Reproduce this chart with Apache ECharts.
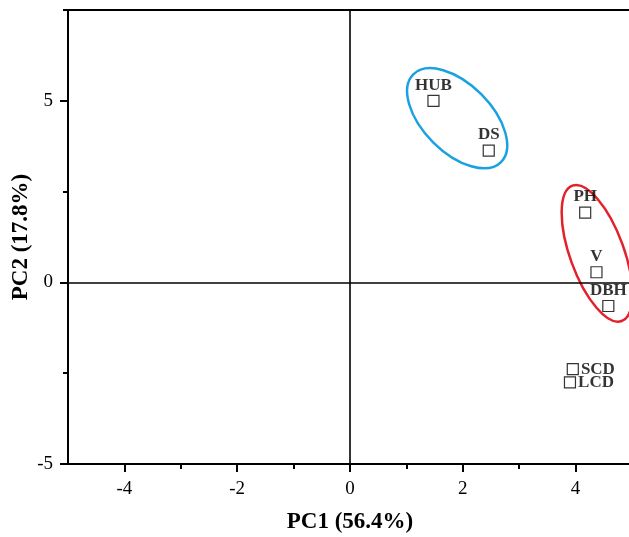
<!DOCTYPE html>
<html>
<head>
<meta charset="utf-8">
<script src="https://cdn.jsdelivr.net/npm/echarts@6/dist/echarts.min.js"></script>
<style>html,body{margin:0;padding:0;background:#fff;}#c{width:629px;height:537px;}</style>
</head>
<body>
<div id="c"></div>
<script>
// ---- data ----
const names = ['HUB', 'DS', 'PH', 'V', 'DBH', 'SCD', 'LCD'];
const pc1 = [1.48, 2.46, 4.17, 4.37, 4.58, 3.95, 3.90];
const pc2 = [5.00, 3.63, 1.92, 0.28, -0.65, -2.39, -2.75];
const xMajorTicks = [-4, -2, 0, 2, 4];
const xMinorTicks = [-3, -1, 1, 3];
const yMajorTicks = [-5, 0, 5];
const yMinorTicks = [-2.5, 2.5, 7.5];
// group ellipse centres (data units)
const ellipseCx = [1.90, 4.38];
const ellipseCy = [4.52, 0.80];

// ---- styles / geometry (pixels) ----
const ellipseStyle = [
  {rx: 34, ry: 62, rot: 45, color: '#1ba1e2'},
  {rx: 27, ry: 72, rot: 20, color: '#e3212b'}
];
const labelPos = {HUB: 'top', DS: 'top', PH: 'top', V: 'top', DBH: 'top', SCD: 'right', LCD: 'right'};
const FONT = 'Liberation Serif';

const points = names.map((n, i) => ({
  name: n,
  value: [pc1[i], pc2[i]],
  label: {position: labelPos[n], distance: labelPos[n] === 'right' ? 2 : 1}
}));
const ellipses = ellipseCx.map((x, i) => [x, ellipseCy[i], i]);

const chart = echarts.init(document.getElementById('c'), null, {renderer: 'canvas'});
const tickLabel = {color: '#000', fontFamily: FONT, fontSize: 19};
chart.setOption({
  animation: false,
  backgroundColor: '#fff',
  grid: {left: 68, right: -3, top: 10, bottom: 73, show: true, borderColor: '#000', borderWidth: 2,
         backgroundColor: 'transparent', containLabel: false, outerBoundsMode: 'none'},
  xAxis: [{
    type: 'value', min: -5, max: 5,
    name: 'PC1 (56.4%)', nameLocation: 'middle', nameGap: 47,
    nameTextStyle: {color: '#000', fontFamily: FONT, fontSize: 23, fontWeight: 'bold'},
    axisLine: {show: true, onZero: false, lineStyle: {color: '#000', width: 2}},
    axisTick: {show: true, length: 8, customValues: xMajorTicks, lineStyle: {color: '#000', width: 2}},
    axisLabel: Object.assign({customValues: xMajorTicks, margin: 16}, tickLabel),
    splitLine: {show: false}
  }, {
    type: 'value', min: -5, max: 5, position: 'bottom',
    axisLine: {show: false, onZero: false},
    axisTick: {show: true, length: 5, customValues: xMinorTicks, lineStyle: {color: '#000', width: 2}},
    axisLabel: {show: false}, splitLine: {show: false}
  }],
  yAxis: [{
    type: 'value', min: -5, max: 7.5,
    name: 'PC2 (17.8%)', nameLocation: 'middle', nameGap: 35, nameMoveOverlap: false,
    nameTextStyle: {color: '#000', fontFamily: FONT, fontSize: 23, fontWeight: 'bold'},
    axisLine: {show: true, onZero: false, lineStyle: {color: '#000', width: 2}},
    axisTick: {show: true, length: 8, customValues: yMajorTicks, lineStyle: {color: '#000', width: 2}},
    axisLabel: Object.assign({customValues: yMajorTicks, margin: 15}, tickLabel),
    splitLine: {show: false}
  }, {
    type: 'value', min: -5, max: 7.5, position: 'left',
    axisLine: {show: false, onZero: false},
    axisTick: {show: true, length: 5, customValues: yMinorTicks, lineStyle: {color: '#000', width: 2}},
    axisLabel: {show: false}, splitLine: {show: false}
  }],
  series: [{
    type: 'custom',
    xAxisIndex: 0, yAxisIndex: 0,
    clip: false, silent: true, z: 1,
    data: ellipses,
    renderItem: function (params, api) {
      const c = api.coord([api.value(0), api.value(1)]);
      const s = ellipseStyle[api.value(2)];
      return {
        type: 'ellipse',
        x: c[0], y: c[1],
        rotation: s.rot * Math.PI / 180,
        shape: {cx: 0, cy: 0, rx: s.rx, ry: s.ry},
        style: {fill: 'none', stroke: s.color, lineWidth: 2.5}
      };
    }
  }, {
    type: 'scatter',
    xAxisIndex: 0, yAxisIndex: 0, z: 3,
    symbol: 'rect', symbolSize: 11,
    itemStyle: {color: '#fff', borderColor: '#000', borderWidth: 1.2},
    label: {show: true, formatter: '{b}', color: '#000', fontFamily: FONT, fontSize: 17, fontWeight: 'bold'},
    data: points,
    markLine: {
      silent: true, symbol: 'none', animation: false,
      label: {show: false},
      lineStyle: {color: '#000', width: 1.6, type: 'solid'},
      data: [{xAxis: 0}, {yAxis: 0}]
    }
  }]
});
</script>
</body>
</html>
